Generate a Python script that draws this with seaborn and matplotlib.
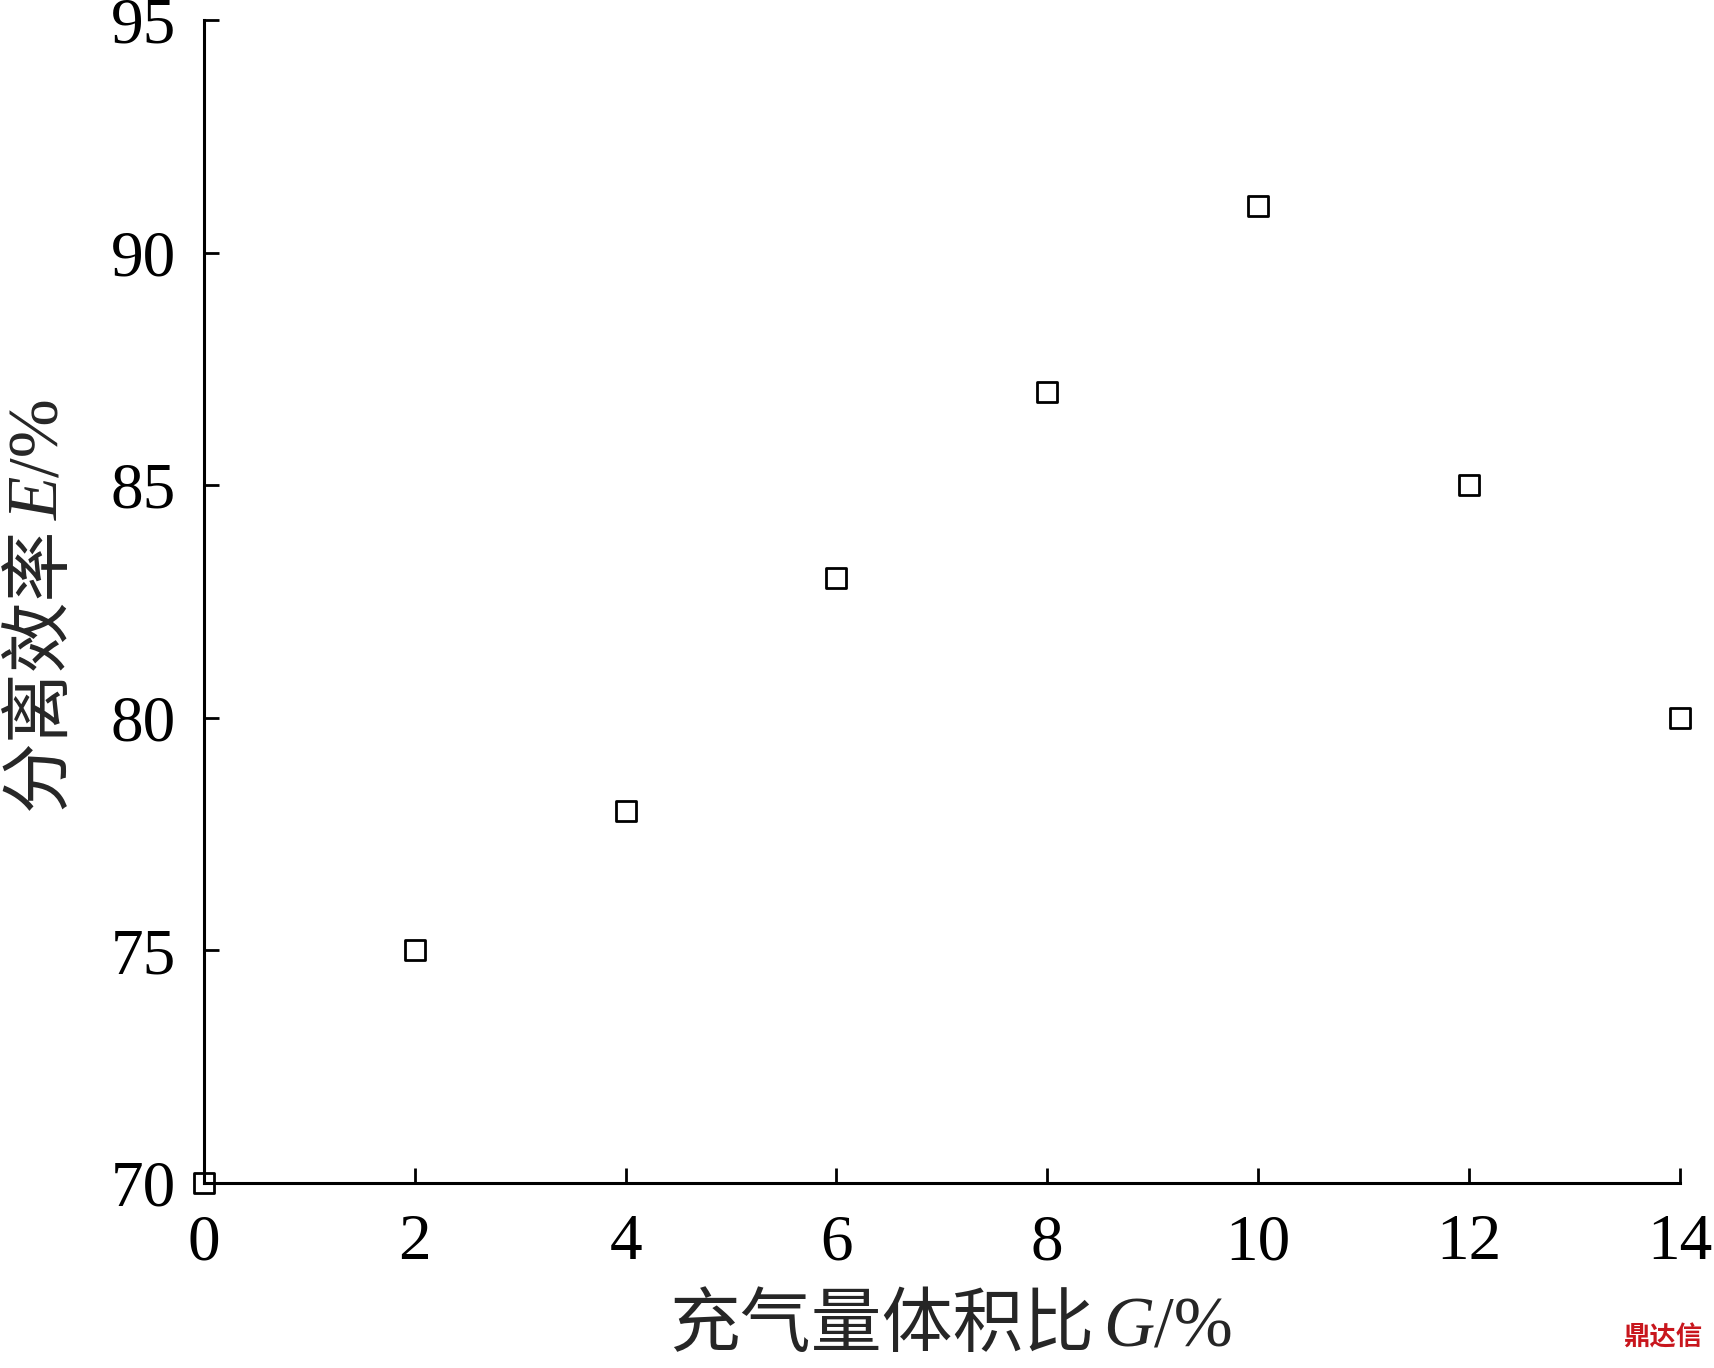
import numpy as np
import pandas as pd
import seaborn as sns
import matplotlib.pyplot as plt

# data
gas_ratio = [0, 2, 4, 6, 8, 10, 12, 14]
efficiency = [70, 75, 78, 83, 87, 91, 85, 80]
x_ticks = [0, 2, 4, 6, 8, 10, 12, 14]
y_ticks = [70, 75, 80, 85, 90, 95]

df = pd.DataFrame({'G': gas_ratio, 'E': efficiency})

sns.set_style('ticks')
plt.rcParams['font.family'] = ['Liberation Serif', 'Noto Sans CJK SC']

fig = plt.figure(figsize=(17.14, 13.68), dpi=100)
ax = fig.add_axes([0.119, 0.1352, 0.861, 0.8502])

sns.scatterplot(data=df, x='G', y='E', marker='s', s=210,
                facecolor='none', edgecolor='black', linewidth=2,
                clip_on=False, zorder=5, ax=ax)

ax.set_xlim(0, 14)
ax.set_ylim(70, 95)
ax.set_xticks(x_ticks)
ax.set_yticks(y_ticks)
ax.tick_params(direction='in', length=11, width=2, labelsize=47, colors='black')
ax.tick_params(axis='x', pad=22)
ax.tick_params(axis='y', pad=20)
for side in ['left', 'bottom']:
    ax.spines[side].set_linewidth(2.2)
    ax.spines[side].set_color('black')
sns.despine(ax=ax)
ax.set_xlabel('')
ax.set_ylabel('')

# axis labels built from pieces so the symbol can be italic
fs = 51
gap = 0.005
x_parts = [('充气量体积比', 'normal'), ('G', 'italic'), ('/%', 'normal')]
y_parts = [('分离效率', 'normal'), ('E', 'italic'), ('/%', 'normal')]

xt = [fig.text(0, 0.016, s, fontsize=fs, style=st, ha='left', va='baseline')
      for s, st in x_parts]
yt = [fig.text(0.034, 0, s, fontsize=fs, style=st, rotation=90,
               rotation_mode='anchor', ha='left', va='baseline')
      for s, st in y_parts]

fig.canvas.draw()
r = fig.canvas.get_renderer()
W, H = fig.bbox.width, fig.bbox.height

xw = [t.get_window_extent(r).width / W for t in xt]
x0 = 0.555 - (sum(xw) + gap) / 2
for i, (t, w) in enumerate(zip(xt, xw)):
    t.set_x(x0)
    x0 += w + (gap if i == 0 else 0)

yh = [t.get_window_extent(r).height / H for t in yt]
y0 = 0.5585 - (sum(yh) + gap) / 2
for i, (t, h) in enumerate(zip(yt, yh)):
    t.set_y(y0)
    y0 += h + (gap if i == 0 else 0)

fig.text(0.993, 0.012, '鼎达信', color='#c8161d', fontsize=19, fontweight='bold',
         ha='right', va='bottom', family=['Noto Sans CJK SC'])

plt.savefig('out.png', dpi=100)
